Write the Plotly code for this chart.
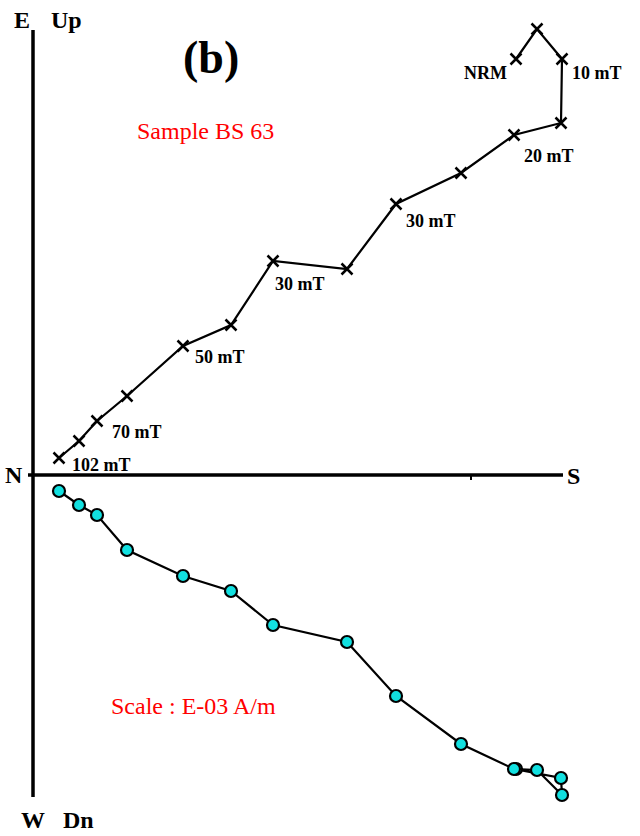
import plotly.graph_objects as go

# Demagnetisation steps (AF, mT)
steps = ["NRM", "", "10 mT", "", "20 mT", "", "30 mT", "", "30 mT", "", "50 mT", "", "70 mT", "", "102 mT"]
# Horizontal projection: N-S component (S positive) and E component (E up)
south = [48.1, 50.2, 52.7, 52.6, 47.9, 42.6, 36.1, 31.2, 23.8, 19.6, 14.8, 9.2, 6.2, 4.4, 2.4]
east = [41.6, 44.6, 41.6, 35.2, 34.0, 30.2, 27.1, 20.6, 21.4, 15.0, 12.9, 7.9, 5.4, 3.4, 1.7]
# Vertical projection: down component
down = [29.4, 29.5, 32.0, 30.3, 29.4, 26.9, 22.1, 16.7, 15.0, 11.6, 10.1, 7.5, 4.0, 3.0, 1.6]

# label offsets (px) for step labels
lab_dx = [-31, 0, 35, 0, 35, 0, 35, 0, 27, 0, 37, 0, 40, 0, 42]
lab_dy = [14, 0, 14, 0, 21, 0, 17, 0, 23, 0, 11, 0, 11, 0, 7]

SERIF = "Liberation Serif, Times New Roman, serif"

fig = go.Figure()

# axes
fig.add_shape(type="line", x0=-0.7, x1=52.8, y0=0, y1=0, line=dict(color="black", width=3.5))
fig.add_shape(type="line", x0=-0.2, x1=-0.2, y0=44.5, y1=-32.2, line=dict(color="black", width=3.5))
fig.add_shape(type="line", x0=43.6, x1=43.6, y0=0, y1=-0.5, line=dict(color="black", width=2))

fig.add_trace(go.Scatter(
    x=south, y=east, mode="lines+markers",
    line=dict(color="black", width=2.2),
    marker=dict(symbol="x-thin", size=11, line=dict(color="black", width=2.5)),
    hoverinfo="skip", showlegend=False))

fig.add_trace(go.Scatter(
    x=south, y=[-d for d in down], mode="lines+markers",
    line=dict(color="black", width=2.2),
    marker=dict(symbol="circle", size=12, color="#12e0e0", line=dict(color="black", width=2.2)),
    hoverinfo="skip", showlegend=False))

for s, e, lab, dx, dy in zip(south, east, steps, lab_dx, lab_dy):
    if lab:
        fig.add_annotation(x=s, y=e, text="<b>" + lab + "</b>", showarrow=False, xshift=dx, yshift=-dy,
                           xanchor="center", yanchor="middle",
                           font=dict(family=SERIF, size=18, color="black"))

def txt(xpx, ypx, text, size, color="black", bold=True):
    fig.add_annotation(x=xpx / 640, y=1 - ypx / 836, xref="paper", yref="paper",
                       text=("<b>" + text + "</b>") if bold else text,
                       showarrow=False, xanchor="center", yanchor="middle",
                       font=dict(family=SERIF, size=size, color=color))

txt(22, 20, "E", 24)
txt(66, 20, "Up", 24)
txt(33, 820, "W", 24)
txt(78, 820, "Dn", 24)
txt(14, 475, "N", 24)
txt(573, 476, "S", 24)
txt(211, 58, "(b)", 46)
txt(205, 131, "Sample BS 63", 24, "red", False)
txt(193, 706, "Scale : E-03 A/m", 24, "red", False)

fig.update_layout(
    width=640, height=836,
    margin=dict(l=0, r=0, t=0, b=0),
    paper_bgcolor="white", plot_bgcolor="white",
    font=dict(family=SERIF),
    xaxis=dict(range=[-3.5, 60.5], visible=False, fixedrange=True),
    yaxis=dict(range=[-36.1, 47.5], visible=False, fixedrange=True),
)

fig.write_html("out.html")
